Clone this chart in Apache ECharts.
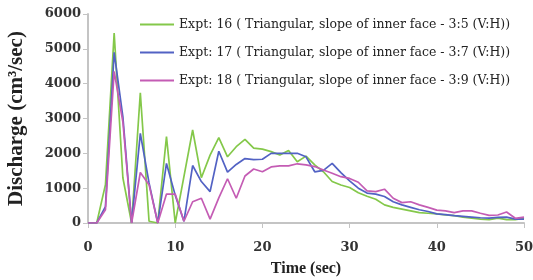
<!DOCTYPE html>
<html>
<head>
<meta charset="utf-8">
<script src="https://cdn.jsdelivr.net/npm/echarts@6/dist/echarts.min.js"></script>
<style>
  html, body { margin: 0; padding: 0; background: #fff; }
  #main { width: 533px; height: 280px; }
</style>
</head>
<body>
<div id="main"></div>
<script>
// time in seconds, one reading per second
const times = Array.from({ length: 51 }, (_, i) => i);

const expt16 = [0, 0, 1100, 5450, 1300, 0, 3740, 50, 0, 2480, 0, 1330, 2670, 1300, 1950, 2450, 1900, 2190, 2400, 2150,
  2120, 2050, 1950, 2080, 1760, 1920, 1670, 1470, 1190, 1090, 1020, 870, 770, 680, 520, 450, 400, 350, 300, 280,
  260, 230, 210, 170, 140, 110, 95, 140, 95, 95, 140];
const expt17 = [0, 0, 470, 4900, 3050, 0, 2575, 1150, 0, 1710, 800, 50, 1650, 1190, 900, 2060, 1460, 1680, 1850, 1820,
  1830, 2000, 2000, 2000, 2000, 1900, 1470, 1510, 1710, 1445, 1210, 1000, 860, 830, 760, 610, 520, 450, 380, 330,
  260, 240, 210, 190, 170, 150, 140, 160, 170, 110, 110];
const expt18 = [0, 0, 380, 4350, 2900, 0, 1450, 1100, 0, 830, 830, 50, 610, 710, 110, 720, 1270, 710, 1350, 1550,
  1470, 1610, 1640, 1640, 1700, 1670, 1620, 1520, 1430, 1330, 1280, 1170, 920, 900, 970, 710, 585, 610, 520, 450,
  370, 350, 300, 350, 350, 280, 220, 230, 315, 135, 170];

const seriesNames = [
  "Expt: 16 ( Triangular, slope of inner face - 3:5 (V:H))",
  "Expt: 17 ( Triangular, slope of inner face - 3:7 (V:H))",
  "Expt: 18 ( Triangular, slope of inner face - 3:9 (V:H))"
];
const seriesColors = ["#84c84a", "#5262c4", "#c45cb4"];
const seriesValues = [expt16, expt17, expt18];

const serif = "'Liberation Serif', 'DejaVu Serif', serif";
const wideSerif = "'DejaVu Serif', 'Liberation Serif', serif";

const series = seriesValues.map((vals, k) => ({
  name: seriesNames[k],
  type: "line",
  showSymbol: false,
  symbol: "none",
  lineStyle: { width: 1.7, color: seriesColors[k] },
  itemStyle: { color: seriesColors[k] },
  data: times.map((t, i) => [t, vals[i]])
}));

const chart = echarts.init(document.getElementById("main"));
chart.setOption({
  animation: false,
  textStyle: { fontFamily: serif },
  grid: { left: 88, right: 9, top: 14, bottom: 57, containLabel: false, outerBoundsMode: "none" },
  legend: {
    orient: "vertical",
    left: 140,
    top: 18,
    padding: 0,
    itemGap: 15,
    itemWidth: 34,
    itemHeight: 14,
    icon: "path://M0,6 L34,6 L34,8 L0,8 Z",
    textStyle: { fontFamily: wideSerif, fontSize: 12.5, color: "#222" },
    data: seriesNames
  },
  xAxis: {
    type: "value",
    min: 0,
    max: 50,
    interval: 10,
    name: "Time (sec)",
    nameLocation: "middle",
    nameGap: 38,
    nameTextStyle: { fontFamily: serif, fontSize: 16, fontWeight: "bold", color: "#222" },
    axisLine: { lineStyle: { color: "#c4c4c4", width: 2 } },
    axisTick: { show: true, length: 5, lineStyle: { color: "#c4c4c4" } },
    axisLabel: { fontFamily: wideSerif, fontSize: 13, fontWeight: "bold", color: "#333", margin: 18 },
    splitLine: { show: false }
  },
  yAxis: {
    type: "value",
    min: 0,
    max: 6000,
    interval: 1000,
    name: "Discharge (cm³/sec)",
    nameLocation: "middle",
    nameGap: 61,
    nameTextStyle: { fontFamily: serif, fontSize: 21, fontWeight: "bold", color: "#222" },
    axisLine: { show: true, lineStyle: { color: "#c4c4c4", width: 2 } },
    axisTick: { show: true, length: 5, lineStyle: { color: "#c4c4c4" } },
    axisLabel: {
      fontFamily: wideSerif, fontSize: 13, fontWeight: "bold", color: "#333", margin: 7,
      formatter: (v) => String(v)
    },
    splitLine: { show: false }
  },
  series
});
</script>
</body>
</html>
